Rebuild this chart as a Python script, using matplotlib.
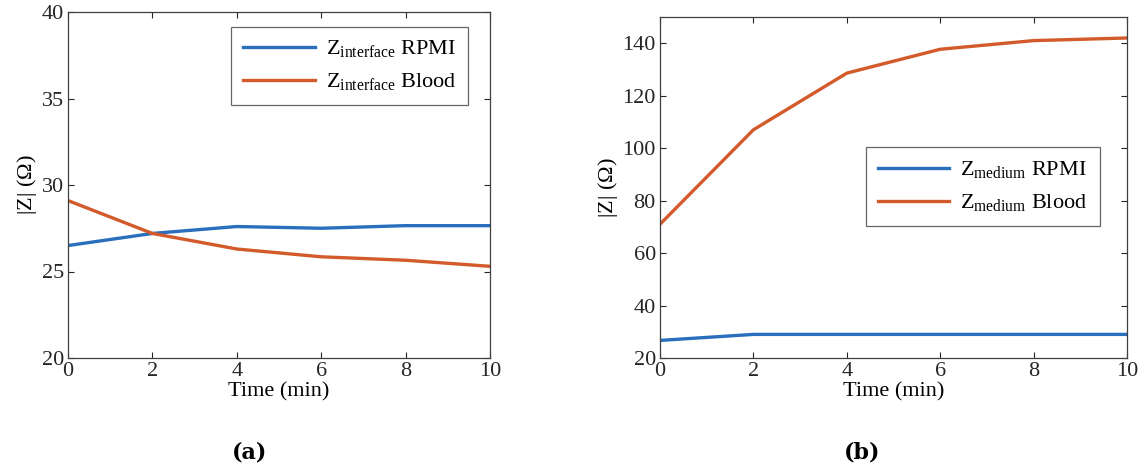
import numpy as np
import matplotlib
matplotlib.use('Agg')
import matplotlib.pyplot as plt

plt.rcParams['font.family'] = 'Liberation Serif'
plt.rcParams['mathtext.fontset'] = 'custom'
plt.rcParams['mathtext.rm'] = 'Liberation Serif'
plt.rcParams['xtick.direction'] = 'in'
plt.rcParams['ytick.direction'] = 'in'

time = [0, 2, 4, 6, 8, 10]
interface_rpmi = [26.5, 27.2, 27.6, 27.5, 27.65, 27.65]
interface_blood = [29.1, 27.2, 26.3, 25.85, 25.65, 25.3]
medium_rpmi = [26.7, 29, 29, 29, 29, 29]
medium_blood = [71, 107, 128.6, 137.7, 141, 142]

blue = '#2A6EBE'
orange = '#D35A2A'
fs = 16

fig = plt.figure(figsize=(11.45, 4.7), dpi=100)
ax1 = fig.add_axes([68/1145, 112/470, 422/1145, 346/470])
ax2 = fig.add_axes([660/1145, 112/470, 467/1145, 341/470])

ax1.plot(time, interface_rpmi, color=blue, lw=2.4, label=r'Z$_\mathregular{interface}$ RPMI')
ax1.plot(time, interface_blood, color=orange, lw=2.4, label=r'Z$_\mathregular{interface}$ Blood')
ax1.set_ylim(20, 40)
ax1.set_yticks([20, 25, 30, 35, 40])

ax2.plot(time, medium_rpmi, color=blue, lw=2.4, label=r'Z$_\mathregular{medium}$ RPMI')
ax2.plot(time, medium_blood, color=orange, lw=2.4, label=r'Z$_\mathregular{medium}$ Blood')
ax2.set_ylim(20, 150)
ax2.set_yticks(np.arange(20, 141, 20))

for ax in (ax1, ax2):
    ax.set_xlim(0, 10)
    ax.set_xticks(time)
    ax.tick_params(labelsize=fs, top=True, right=True, length=4, width=0.8,
                   colors='#262626', pad=3)
    for s in ax.spines.values():
        s.set_color('#404040')
        s.set_linewidth(0.9)
    ax.set_xlabel('Time (min)', fontsize=fs, labelpad=1)
    ax.set_ylabel(r'|Z| ($\Omega$)', fontsize=fs, labelpad=2)

leg1 = ax1.legend(loc='upper right', fontsize=fs, frameon=True, fancybox=False,
                  edgecolor='#404040', handlelength=3.2, borderpad=0.55, labelspacing=0.5,
                  handletextpad=0.5, bbox_to_anchor=(0.975, 0.99))
leg2 = ax2.legend(loc='upper right', fontsize=fs, frameon=True, fancybox=False,
                  edgecolor='#404040', handlelength=3.2, borderpad=0.55, labelspacing=0.5,
                  handletextpad=0.5, bbox_to_anchor=(0.965, 0.65))
for leg in (leg1, leg2):
    leg.get_frame().set_linewidth(0.9)

fig.text(250/1145, 1 - 452/470, '(a)', fontsize=16, fontweight='bold',
         family='DejaVu Serif', ha='center', va='center')
fig.text(862/1145, 1 - 452/470, '(b)', fontsize=16, fontweight='bold',
         family='DejaVu Serif', ha='center', va='center')

fig.savefig('out.png', dpi=100)
